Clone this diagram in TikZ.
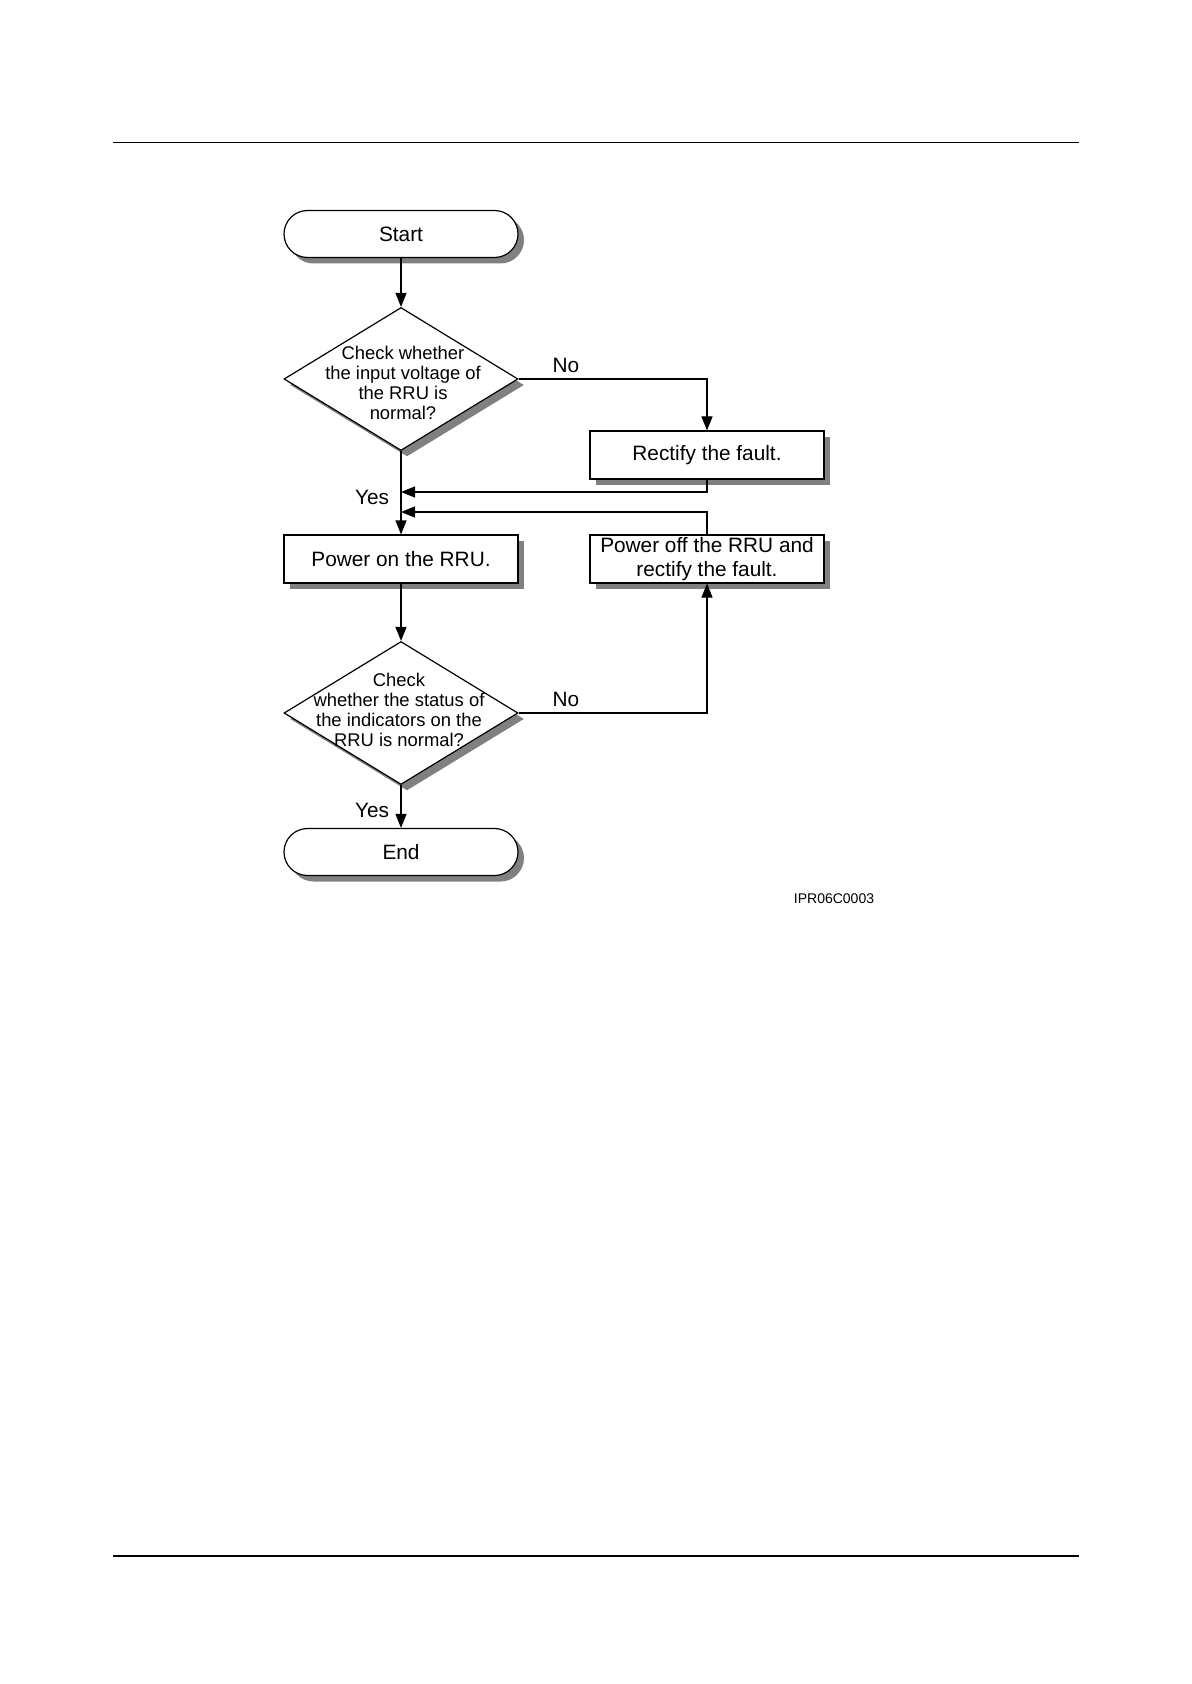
\documentclass[tikz,border=0pt]{standalone}
\usepackage{fontspec}
\setmainfont{Liberation Sans}
\usetikzlibrary{shapes.geometric,shadows,arrows.meta}
\begin{document}
\begin{tikzpicture}[x=0.5pt,y=-0.5pt,
  shad/.style={drop shadow={shadow xshift=3pt,shadow yshift=-3pt,fill=black!50,opacity=1}},
  term/.style={draw,line width=0.6pt,fill=white,rounded corners=11.75pt,minimum width=117pt,minimum height=23.5pt,shad,font=\fontsize{10.4}{12}\selectfont},
  proc/.style={draw,rectangle,line width=0.6pt,fill=white,minimum width=117pt,minimum height=24pt,shad,align=center,inner sep=1pt,font=\fontsize{10.4}{11.9}\selectfont},
  dia/.style={draw,diamond,line width=0.6pt,fill=white,minimum width=117pt,minimum height=71.5pt,shad,inner sep=0pt},
  diatext/.style={align=center,font=\fontsize{9.2}{10}\selectfont,inner sep=0pt},
  lab/.style={font=\fontsize{10.4}{12}\selectfont,inner sep=0pt},
  arr/.style={line width=0.6pt,-{Triangle[length=7pt,width=5.5pt]}},
  rule/.style={line width=0.6pt}
]
\useasboundingbox[fill=white] (0,0) rectangle (1191,1684);
% page rules
\coordinate (h1) at (113,142.5); \coordinate (h2) at (1079,142.5);
\coordinate (f1) at (113,1556); \coordinate (f2) at (1079,1556);
\draw[rule] (h1) -- (h2);
\draw[rule] (f1) -- (f2);

% nodes
\node[term] (start) at (401,234) {Start};
\node[dia] (d1) at (401,379) {};
\node[diatext] (d1t) at (403,383) {Check whether\\the input voltage of\\the RRU is\\normal?};
\node[proc] (rect) at (707,455) {Rectify the fault.};
\node[proc] (pon) at (401,559) {Power on the RRU.};
\node[proc] (poff) at (707,559) {Power off the RRU and\\rectify the fault.};
\node[dia] (d2) at (401,713) {};
\node[diatext] (d2t) at (399,710) {Check\\whether the status of\\the indicators on the\\RRU is normal?};
\node[term] (end) at (401,852) {End};

\coordinate (j1) at (401,492);
\coordinate (j2) at (401,512);

% connectors
\draw[arr] (start.south) -- (d1.north);
\draw[arr] (d1.east) -| (rect.north);
\draw[arr] (rect.south) |- (j1);
\draw[arr] (poff.north) |- (j2);
\draw[arr] (d1.south) -- (pon.north);
\draw[arr] (pon.south) -- (d2.north);
\draw[arr] (d2.east) -| (poff.south);
\draw[arr] (d2.south) -- (end.north);

% labels
\node[lab] (no1) at (566,365) {No};
\node[lab] (no2) at (566,699) {No};
\node[lab] (yes1) at (372,497) {Yes};
\node[lab] (yes2) at (372,810) {Yes};
\node[font=\fontsize{7}{8}\selectfont,inner sep=0pt] (fig) at (834,899) {IPR06C0003};
\end{tikzpicture}
\end{document}
